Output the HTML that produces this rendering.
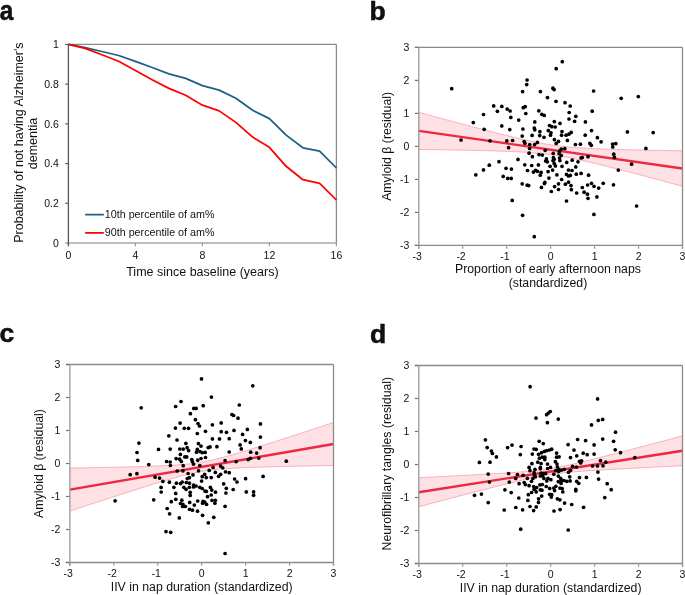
<!DOCTYPE html>
<html><head><meta charset="utf-8"><style>
html,body{margin:0;padding:0;background:#fff;}
svg{display:block;will-change:transform;}
text{font-family:"Liberation Sans", sans-serif;fill:#111;}
</style></head><body>
<svg width="685" height="595" viewBox="0 0 685 595">
<rect width="685" height="595" fill="#fff"/>
<line x1="68.4" y1="44.4" x2="336.4" y2="44.4" stroke="#8a8a8a" stroke-width="1.3"/>
<line x1="336.4" y1="44.4" x2="336.4" y2="243.0" stroke="#8a8a8a" stroke-width="1.3"/>
<line x1="65.10000000000001" y1="243.0" x2="336.4" y2="243.0" stroke="#a8a8a8" stroke-width="1.5"/>
<line x1="65.10000000000001" y1="203.28" x2="68.4" y2="203.28" stroke="#666" stroke-width="1.2"/>
<line x1="65.10000000000001" y1="163.56" x2="68.4" y2="163.56" stroke="#666" stroke-width="1.2"/>
<line x1="65.10000000000001" y1="123.84" x2="68.4" y2="123.84" stroke="#666" stroke-width="1.2"/>
<line x1="65.10000000000001" y1="84.12" x2="68.4" y2="84.12" stroke="#666" stroke-width="1.2"/>
<line x1="65.10000000000001" y1="44.40" x2="68.4" y2="44.40" stroke="#666" stroke-width="1.2"/>
<line x1="68.40" y1="243.0" x2="68.40" y2="246.2" stroke="#999" stroke-width="1.2"/>
<text x="68.40" y="259.2" font-size="10.5" text-anchor="middle">0</text>
<line x1="135.40" y1="243.0" x2="135.40" y2="246.2" stroke="#999" stroke-width="1.2"/>
<text x="135.40" y="259.2" font-size="10.5" text-anchor="middle">4</text>
<line x1="202.40" y1="243.0" x2="202.40" y2="246.2" stroke="#999" stroke-width="1.2"/>
<text x="202.40" y="259.2" font-size="10.5" text-anchor="middle">8</text>
<line x1="269.40" y1="243.0" x2="269.40" y2="246.2" stroke="#999" stroke-width="1.2"/>
<text x="269.40" y="259.2" font-size="10.5" text-anchor="middle">12</text>
<line x1="336.40" y1="243.0" x2="336.40" y2="246.2" stroke="#999" stroke-width="1.2"/>
<text x="336.40" y="259.2" font-size="10.5" text-anchor="middle">16</text>
<line x1="68.4" y1="44.4" x2="68.4" y2="246.2" stroke="#555" stroke-width="1.3"/>
<text x="58.900000000000006" y="246.80" font-size="10.5" text-anchor="end">0</text>
<text x="58.900000000000006" y="207.08" font-size="10.5" text-anchor="end">0.2</text>
<text x="58.900000000000006" y="167.36" font-size="10.5" text-anchor="end">0.4</text>
<text x="58.900000000000006" y="127.64" font-size="10.5" text-anchor="end">0.6</text>
<text x="58.900000000000006" y="87.92" font-size="10.5" text-anchor="end">0.8</text>
<text x="58.900000000000006" y="48.20" font-size="10.5" text-anchor="end">1</text>
<polyline points="68.40,44.40 85.15,47.60 101.90,51.50 118.65,55.50 135.40,61.40 152.15,67.50 168.90,73.90 185.65,78.40 202.40,85.60 219.15,90.10 235.90,98.20 252.65,110.30 269.40,118.60 286.15,135.10 302.90,147.80 319.65,151.20 336.40,168.00" fill="none" stroke="#1b6088" stroke-width="1.75" stroke-linejoin="round"/>
<polyline points="68.40,44.40 85.15,48.40 101.90,54.80 118.65,61.30 135.40,70.60 152.15,79.80 168.90,88.40 185.65,95.30 202.40,105.20 219.15,110.90 235.90,122.40 252.65,137.10 269.40,147.30 286.15,166.30 302.90,179.70 319.65,183.40 336.40,200.00" fill="none" stroke="#ff0000" stroke-width="1.75" stroke-linejoin="round"/>
<line x1="85.8" y1="214.6" x2="103.2" y2="214.6" stroke="#1b6088" stroke-width="1.75" stroke-linecap="round"/>
<line x1="85.8" y1="232.8" x2="103.2" y2="232.8" stroke="#ff0000" stroke-width="1.75" stroke-linecap="round"/>
<text x="104.8" y="218.0" font-size="10.72">10th percentile of am%</text>
<text x="104.8" y="236.2" font-size="10.72">90th percentile of am%</text>
<text x="202.4" y="276" font-size="12.5" text-anchor="middle">Time since baseline (years)</text>
<text transform="translate(22.6,142.6) rotate(-90)" font-size="12.5" text-anchor="middle">Probability of not having Alzheimer's</text>
<text transform="translate(37,143.5) rotate(-90)" font-size="12.5" text-anchor="middle">dementia</text>
<polygon points="418.80,112.39 423.19,113.58 427.59,114.77 431.99,115.95 436.38,117.13 440.78,118.31 445.17,119.49 449.56,120.66 453.96,121.84 458.36,123.01 462.75,124.17 467.14,125.34 471.54,126.50 475.94,127.65 480.33,128.80 484.73,129.94 489.12,131.08 493.51,132.20 497.91,133.32 502.31,134.43 506.70,135.52 511.10,136.59 515.49,137.65 519.88,138.68 524.28,139.68 528.67,140.66 533.07,141.59 537.47,142.47 541.86,143.31 546.25,144.08 550.65,144.79 555.05,145.43 559.44,146.00 563.84,146.51 568.23,146.95 572.62,147.34 577.02,147.68 581.41,147.98 585.81,148.24 590.20,148.47 594.60,148.68 599.00,148.87 603.39,149.03 607.78,149.19 612.18,149.33 616.58,149.46 620.97,149.58 625.37,149.70 629.76,149.81 634.15,149.91 638.55,150.00 642.94,150.10 647.34,150.19 651.74,150.27 656.13,150.35 660.52,150.43 664.92,150.51 669.32,150.58 673.71,150.66 678.11,150.73 682.50,150.80 682.50,186.22 678.11,185.04 673.71,183.86 669.32,182.67 664.92,181.50 660.52,180.32 656.13,179.14 651.74,177.97 647.34,176.80 642.94,175.64 638.55,174.48 634.15,173.32 629.76,172.17 625.37,171.02 620.97,169.88 616.58,168.75 612.18,167.63 607.78,166.51 603.39,165.41 599.00,164.33 594.60,163.26 590.20,162.21 585.81,161.19 581.41,160.20 577.02,159.24 572.62,158.33 568.23,157.46 563.84,156.65 559.44,155.91 555.05,155.22 550.65,154.61 546.25,154.07 541.86,153.59 537.47,153.16 533.07,152.80 528.67,152.47 524.28,152.19 519.88,151.94 515.49,151.72 511.10,151.52 506.70,151.34 502.31,151.18 497.91,151.03 493.51,150.89 489.12,150.77 484.73,150.65 480.33,150.54 475.94,150.43 471.54,150.33 467.14,150.24 462.75,150.15 458.36,150.06 453.96,149.97 449.56,149.89 445.17,149.82 440.78,149.74 436.38,149.67 431.99,149.59 427.59,149.52 423.19,149.45 418.80,149.39" fill="#fde1e5" stroke="none"/>
<polyline points="418.80,112.39 423.19,113.58 427.59,114.77 431.99,115.95 436.38,117.13 440.78,118.31 445.17,119.49 449.56,120.66 453.96,121.84 458.36,123.01 462.75,124.17 467.14,125.34 471.54,126.50 475.94,127.65 480.33,128.80 484.73,129.94 489.12,131.08 493.51,132.20 497.91,133.32 502.31,134.43 506.70,135.52 511.10,136.59 515.49,137.65 519.88,138.68 524.28,139.68 528.67,140.66 533.07,141.59 537.47,142.47 541.86,143.31 546.25,144.08 550.65,144.79 555.05,145.43 559.44,146.00 563.84,146.51 568.23,146.95 572.62,147.34 577.02,147.68 581.41,147.98 585.81,148.24 590.20,148.47 594.60,148.68 599.00,148.87 603.39,149.03 607.78,149.19 612.18,149.33 616.58,149.46 620.97,149.58 625.37,149.70 629.76,149.81 634.15,149.91 638.55,150.00 642.94,150.10 647.34,150.19 651.74,150.27 656.13,150.35 660.52,150.43 664.92,150.51 669.32,150.58 673.71,150.66 678.11,150.73 682.50,150.80" fill="none" stroke="#f7a0ae" stroke-width="0.8"/>
<polyline points="418.80,149.39 423.19,149.45 427.59,149.52 431.99,149.59 436.38,149.67 440.78,149.74 445.17,149.82 449.56,149.89 453.96,149.97 458.36,150.06 462.75,150.15 467.14,150.24 471.54,150.33 475.94,150.43 480.33,150.54 484.73,150.65 489.12,150.77 493.51,150.89 497.91,151.03 502.31,151.18 506.70,151.34 511.10,151.52 515.49,151.72 519.88,151.94 524.28,152.19 528.67,152.47 533.07,152.80 537.47,153.16 541.86,153.59 546.25,154.07 550.65,154.61 555.05,155.22 559.44,155.91 563.84,156.65 568.23,157.46 572.62,158.33 577.02,159.24 581.41,160.20 585.81,161.19 590.20,162.21 594.60,163.26 599.00,164.33 603.39,165.41 607.78,166.51 612.18,167.63 616.58,168.75 620.97,169.88 625.37,171.02 629.76,172.17 634.15,173.32 638.55,174.48 642.94,175.64 647.34,176.80 651.74,177.97 656.13,179.14 660.52,180.32 664.92,181.50 669.32,182.67 673.71,183.86 678.11,185.04 682.50,186.22" fill="none" stroke="#f7a0ae" stroke-width="0.8"/>
<line x1="418.8" y1="130.89" x2="682.5" y2="168.51" stroke="#ec2842" stroke-width="2.4"/>
<line x1="414.8" y1="47.4" x2="682.5" y2="47.4" stroke="#8a8a8a" stroke-width="1.3"/>
<line x1="682.5" y1="47.4" x2="682.5" y2="248.70000000000002" stroke="#8a8a8a" stroke-width="1.3"/>
<line x1="414.8" y1="245.4" x2="682.5" y2="245.4" stroke="#8a8a8a" stroke-width="1.3"/>
<line x1="414.8" y1="245.40" x2="418.8" y2="245.40" stroke="#777" stroke-width="1.2"/>
<line x1="418.80" y1="245.4" x2="418.80" y2="248.70000000000002" stroke="#999" stroke-width="1.2"/>
<text x="409.3" y="249.20" font-size="10.5" text-anchor="end">-3</text>
<text x="417.10" y="259.70" font-size="10.5" text-anchor="middle">-3</text>
<line x1="414.8" y1="212.40" x2="418.8" y2="212.40" stroke="#777" stroke-width="1.2"/>
<line x1="462.75" y1="245.4" x2="462.75" y2="248.70000000000002" stroke="#999" stroke-width="1.2"/>
<text x="409.3" y="216.20" font-size="10.5" text-anchor="end">-2</text>
<text x="461.05" y="259.70" font-size="10.5" text-anchor="middle">-2</text>
<line x1="414.8" y1="179.40" x2="418.8" y2="179.40" stroke="#777" stroke-width="1.2"/>
<line x1="506.70" y1="245.4" x2="506.70" y2="248.70000000000002" stroke="#999" stroke-width="1.2"/>
<text x="409.3" y="183.20" font-size="10.5" text-anchor="end">-1</text>
<text x="505.00" y="259.70" font-size="10.5" text-anchor="middle">-1</text>
<line x1="414.8" y1="146.40" x2="418.8" y2="146.40" stroke="#777" stroke-width="1.2"/>
<line x1="550.65" y1="245.4" x2="550.65" y2="248.70000000000002" stroke="#999" stroke-width="1.2"/>
<text x="409.3" y="150.20" font-size="10.5" text-anchor="end">0</text>
<text x="550.65" y="259.70" font-size="10.5" text-anchor="middle">0</text>
<line x1="414.8" y1="113.40" x2="418.8" y2="113.40" stroke="#777" stroke-width="1.2"/>
<line x1="594.60" y1="245.4" x2="594.60" y2="248.70000000000002" stroke="#999" stroke-width="1.2"/>
<text x="409.3" y="117.20" font-size="10.5" text-anchor="end">1</text>
<text x="594.60" y="259.70" font-size="10.5" text-anchor="middle">1</text>
<line x1="414.8" y1="80.40" x2="418.8" y2="80.40" stroke="#777" stroke-width="1.2"/>
<line x1="638.55" y1="245.4" x2="638.55" y2="248.70000000000002" stroke="#999" stroke-width="1.2"/>
<text x="409.3" y="84.20" font-size="10.5" text-anchor="end">2</text>
<text x="638.55" y="259.70" font-size="10.5" text-anchor="middle">2</text>
<line x1="414.8" y1="47.40" x2="418.8" y2="47.40" stroke="#777" stroke-width="1.2"/>
<line x1="682.50" y1="245.4" x2="682.50" y2="248.70000000000002" stroke="#999" stroke-width="1.2"/>
<text x="409.3" y="51.20" font-size="10.5" text-anchor="end">3</text>
<text x="682.50" y="259.70" font-size="10.5" text-anchor="middle">3</text>
<line x1="418.8" y1="47.4" x2="418.8" y2="248.70000000000002" stroke="#9a9a9a" stroke-width="1.3"/>
<circle cx="451.7" cy="88.7" r="1.85"/>
<circle cx="493.7" cy="105.9" r="1.85"/>
<circle cx="501.8" cy="106.4" r="1.85"/>
<circle cx="507.2" cy="109.1" r="1.85"/>
<circle cx="510.1" cy="111" r="1.85"/>
<circle cx="497.4" cy="111.3" r="1.85"/>
<circle cx="483.5" cy="114.5" r="1.85"/>
<circle cx="510.8" cy="117.4" r="1.85"/>
<circle cx="518.7" cy="120.1" r="1.85"/>
<circle cx="473.3" cy="122.6" r="1.85"/>
<circle cx="501.8" cy="125.9" r="1.85"/>
<circle cx="484.2" cy="129.3" r="1.85"/>
<circle cx="509.8" cy="129.6" r="1.85"/>
<circle cx="562.3" cy="61.7" r="1.85"/>
<circle cx="556.2" cy="68.7" r="1.85"/>
<circle cx="527.1" cy="80" r="1.85"/>
<circle cx="526.7" cy="84.6" r="1.85"/>
<circle cx="552.9" cy="88.2" r="1.85"/>
<circle cx="554.1" cy="89.6" r="1.85"/>
<circle cx="522.6" cy="91.6" r="1.85"/>
<circle cx="540.4" cy="91.6" r="1.85"/>
<circle cx="593.6" cy="91" r="1.85"/>
<circle cx="547.5" cy="97.6" r="1.85"/>
<circle cx="556" cy="101.3" r="1.85"/>
<circle cx="565" cy="102.7" r="1.85"/>
<circle cx="570.2" cy="106" r="1.85"/>
<circle cx="523.2" cy="107.7" r="1.85"/>
<circle cx="525.2" cy="106.7" r="1.85"/>
<circle cx="538.8" cy="110.8" r="1.85"/>
<circle cx="525.8" cy="113.5" r="1.85"/>
<circle cx="541.8" cy="114.3" r="1.85"/>
<circle cx="544.2" cy="115.4" r="1.85"/>
<circle cx="569.2" cy="112.5" r="1.85"/>
<circle cx="575.8" cy="116.3" r="1.85"/>
<circle cx="592.2" cy="111.2" r="1.85"/>
<circle cx="534.8" cy="121.9" r="1.85"/>
<circle cx="554.3" cy="121.6" r="1.85"/>
<circle cx="569" cy="119" r="1.85"/>
<circle cx="574.6" cy="121.3" r="1.85"/>
<circle cx="585.4" cy="121.9" r="1.85"/>
<circle cx="560" cy="123.4" r="1.85"/>
<circle cx="549.5" cy="125.5" r="1.85"/>
<circle cx="551.8" cy="126.7" r="1.85"/>
<circle cx="555.2" cy="127" r="1.85"/>
<circle cx="522.9" cy="129" r="1.85"/>
<circle cx="534.3" cy="128" r="1.85"/>
<circle cx="534.8" cy="129.8" r="1.85"/>
<circle cx="621.2" cy="98.3" r="1.85"/>
<circle cx="638.3" cy="96.6" r="1.85"/>
<circle cx="522.2" cy="136.1" r="1.85"/>
<circle cx="461" cy="140" r="1.85"/>
<circle cx="490" cy="140.8" r="1.85"/>
<circle cx="506.8" cy="140.9" r="1.85"/>
<circle cx="512.6" cy="140.5" r="1.85"/>
<circle cx="508.6" cy="147.7" r="1.85"/>
<circle cx="518" cy="159.4" r="1.85"/>
<circle cx="499" cy="161.7" r="1.85"/>
<circle cx="489.3" cy="165.2" r="1.85"/>
<circle cx="483.5" cy="169.9" r="1.85"/>
<circle cx="506" cy="168.3" r="1.85"/>
<circle cx="511.4" cy="169.1" r="1.85"/>
<circle cx="475.8" cy="174.8" r="1.85"/>
<circle cx="503.2" cy="176.4" r="1.85"/>
<circle cx="507.7" cy="178.4" r="1.85"/>
<circle cx="511.2" cy="178.4" r="1.85"/>
<circle cx="522.2" cy="183.8" r="1.85"/>
<circle cx="512.2" cy="200.4" r="1.85"/>
<circle cx="539.9" cy="131.7" r="1.85"/>
<circle cx="539.7" cy="135.6" r="1.85"/>
<circle cx="544" cy="137.3" r="1.85"/>
<circle cx="532.1" cy="135.4" r="1.85"/>
<circle cx="548.3" cy="130.6" r="1.85"/>
<circle cx="551" cy="132.8" r="1.85"/>
<circle cx="550.5" cy="135.2" r="1.85"/>
<circle cx="562" cy="131.5" r="1.85"/>
<circle cx="561.6" cy="135.2" r="1.85"/>
<circle cx="566.1" cy="135.2" r="1.85"/>
<circle cx="568.9" cy="134.2" r="1.85"/>
<circle cx="571.2" cy="132.4" r="1.85"/>
<circle cx="567.4" cy="140.4" r="1.85"/>
<circle cx="554.4" cy="139.7" r="1.85"/>
<circle cx="556.2" cy="143.4" r="1.85"/>
<circle cx="558.5" cy="141.4" r="1.85"/>
<circle cx="524.2" cy="141.5" r="1.85"/>
<circle cx="524.9" cy="143.3" r="1.85"/>
<circle cx="537.4" cy="142.4" r="1.85"/>
<circle cx="534.6" cy="144.6" r="1.85"/>
<circle cx="529.7" cy="144.5" r="1.85"/>
<circle cx="529.7" cy="148.5" r="1.85"/>
<circle cx="529.1" cy="153.2" r="1.85"/>
<circle cx="532.4" cy="156.7" r="1.85"/>
<circle cx="545.2" cy="150.3" r="1.85"/>
<circle cx="539.0" cy="154.6" r="1.85"/>
<circle cx="542.3" cy="155.1" r="1.85"/>
<circle cx="561.2" cy="149.1" r="1.85"/>
<circle cx="564.8" cy="148.7" r="1.85"/>
<circle cx="559.5" cy="151.2" r="1.85"/>
<circle cx="559.1" cy="153.6" r="1.85"/>
<circle cx="561.2" cy="155.4" r="1.85"/>
<circle cx="559.5" cy="158.1" r="1.85"/>
<circle cx="559.9" cy="160.6" r="1.85"/>
<circle cx="553.2" cy="153.4" r="1.85"/>
<circle cx="553.4" cy="157.7" r="1.85"/>
<circle cx="554.2" cy="159.3" r="1.85"/>
<circle cx="553" cy="160.6" r="1.85"/>
<circle cx="546.4" cy="158.9" r="1.85"/>
<circle cx="545.6" cy="161" r="1.85"/>
<circle cx="547.3" cy="161.8" r="1.85"/>
<circle cx="554.2" cy="163.4" r="1.85"/>
<circle cx="555.4" cy="165.9" r="1.85"/>
<circle cx="550.1" cy="166.3" r="1.85"/>
<circle cx="562" cy="166.3" r="1.85"/>
<circle cx="566.7" cy="162.4" r="1.85"/>
<circle cx="572.2" cy="160.2" r="1.85"/>
<circle cx="524.8" cy="164.8" r="1.85"/>
<circle cx="531.7" cy="165.5" r="1.85"/>
<circle cx="538.4" cy="164.9" r="1.85"/>
<circle cx="591.5" cy="130.6" r="1.85"/>
<circle cx="585.2" cy="135.2" r="1.85"/>
<circle cx="597.4" cy="137.7" r="1.85"/>
<circle cx="601.1" cy="141.8" r="1.85"/>
<circle cx="575.4" cy="144.5" r="1.85"/>
<circle cx="580.4" cy="144.2" r="1.85"/>
<circle cx="589.9" cy="143.4" r="1.85"/>
<circle cx="591.3" cy="145.3" r="1.85"/>
<circle cx="612.6" cy="144" r="1.85"/>
<circle cx="615.8" cy="143.6" r="1.85"/>
<circle cx="612.8" cy="146.9" r="1.85"/>
<circle cx="613.8" cy="154.2" r="1.85"/>
<circle cx="614.4" cy="157.3" r="1.85"/>
<circle cx="588" cy="156.7" r="1.85"/>
<circle cx="581.1" cy="157.9" r="1.85"/>
<circle cx="582.3" cy="157.5" r="1.85"/>
<circle cx="578" cy="161.8" r="1.85"/>
<circle cx="575.8" cy="166.9" r="1.85"/>
<circle cx="627.4" cy="131.9" r="1.85"/>
<circle cx="653.2" cy="132.6" r="1.85"/>
<circle cx="645.9" cy="148.4" r="1.85"/>
<circle cx="631.6" cy="164.2" r="1.85"/>
<circle cx="527.5" cy="170.5" r="1.85"/>
<circle cx="533.4" cy="172.1" r="1.85"/>
<circle cx="535.6" cy="170.3" r="1.85"/>
<circle cx="537.4" cy="171.3" r="1.85"/>
<circle cx="541.1" cy="172.4" r="1.85"/>
<circle cx="540.3" cy="175.2" r="1.85"/>
<circle cx="548.1" cy="171.6" r="1.85"/>
<circle cx="552.6" cy="170.1" r="1.85"/>
<circle cx="548.9" cy="178.1" r="1.85"/>
<circle cx="556.9" cy="174.8" r="1.85"/>
<circle cx="561.6" cy="179.5" r="1.85"/>
<circle cx="568.5" cy="170.1" r="1.85"/>
<circle cx="572" cy="170.5" r="1.85"/>
<circle cx="566.5" cy="174.4" r="1.85"/>
<circle cx="568.5" cy="176" r="1.85"/>
<circle cx="570.3" cy="175.4" r="1.85"/>
<circle cx="527.2" cy="185.2" r="1.85"/>
<circle cx="528.7" cy="185.6" r="1.85"/>
<circle cx="544.8" cy="182.4" r="1.85"/>
<circle cx="544.4" cy="183.6" r="1.85"/>
<circle cx="541.4" cy="187.4" r="1.85"/>
<circle cx="554.6" cy="186.6" r="1.85"/>
<circle cx="558.5" cy="183.8" r="1.85"/>
<circle cx="558.5" cy="189.5" r="1.85"/>
<circle cx="551.3" cy="191.5" r="1.85"/>
<circle cx="565.4" cy="184.2" r="1.85"/>
<circle cx="568.5" cy="182.2" r="1.85"/>
<circle cx="571" cy="185.6" r="1.85"/>
<circle cx="571.4" cy="189.7" r="1.85"/>
<circle cx="566.5" cy="201" r="1.85"/>
<circle cx="576.3" cy="174.2" r="1.85"/>
<circle cx="581.1" cy="173.4" r="1.85"/>
<circle cx="588.6" cy="175.2" r="1.85"/>
<circle cx="618.3" cy="170.1" r="1.85"/>
<circle cx="576.7" cy="193" r="1.85"/>
<circle cx="582.3" cy="187.5" r="1.85"/>
<circle cx="587.6" cy="185" r="1.85"/>
<circle cx="591.5" cy="183.3" r="1.85"/>
<circle cx="594" cy="186.3" r="1.85"/>
<circle cx="598.7" cy="188.1" r="1.85"/>
<circle cx="603.2" cy="183.3" r="1.85"/>
<circle cx="613.5" cy="184.8" r="1.85"/>
<circle cx="584.1" cy="192.2" r="1.85"/>
<circle cx="587.4" cy="194.2" r="1.85"/>
<circle cx="588" cy="198.3" r="1.85"/>
<circle cx="596.9" cy="196.9" r="1.85"/>
<circle cx="636.6" cy="206" r="1.85"/>
<circle cx="522.6" cy="215.3" r="1.85"/>
<circle cx="534.3" cy="236.7" r="1.85"/>
<circle cx="593.9" cy="214.4" r="1.85"/>
<text x="547.95" y="272.85" font-size="12.3" text-anchor="middle">Proportion of early afternoon naps</text>
<text x="547.95" y="287.35" font-size="12.3" text-anchor="middle">(standardized)</text>
<text transform="translate(391.3,146.40) rotate(-90)" font-size="12.3" text-anchor="middle">Amyloid β (residual)</text>
<polygon points="69.90,468.10 74.29,468.02 78.69,467.95 83.08,467.87 87.47,467.78 91.87,467.70 96.26,467.62 100.65,467.53 105.05,467.44 109.44,467.35 113.83,467.25 118.23,467.15 122.62,467.05 127.01,466.94 131.41,466.83 135.80,466.72 140.19,466.59 144.59,466.46 148.98,466.31 153.37,466.16 157.77,465.99 162.16,465.80 166.55,465.59 170.95,465.35 175.34,465.08 179.73,464.77 184.13,464.40 188.52,463.96 192.91,463.45 197.31,462.84 201.70,462.13 206.09,461.32 210.49,460.41 214.88,459.41 219.27,458.32 223.67,457.18 228.06,455.97 232.45,454.73 236.85,453.45 241.24,452.14 245.63,450.81 250.03,449.46 254.42,448.10 258.81,446.72 263.21,445.34 267.60,443.95 271.99,442.55 276.39,441.14 280.78,439.73 285.17,438.31 289.57,436.89 293.96,435.47 298.35,434.04 302.75,432.61 307.14,431.18 311.53,429.75 315.93,428.32 320.32,426.88 324.71,425.44 329.11,424.00 333.50,422.56 333.50,465.50 329.11,465.58 324.71,465.65 320.32,465.73 315.93,465.82 311.53,465.90 307.14,465.98 302.75,466.07 298.35,466.16 293.96,466.25 289.57,466.35 285.17,466.45 280.78,466.55 276.39,466.66 271.99,466.77 267.60,466.88 263.21,467.01 258.81,467.14 254.42,467.29 250.03,467.44 245.63,467.61 241.24,467.80 236.85,468.01 232.45,468.25 228.06,468.52 223.67,468.83 219.27,469.20 214.88,469.64 210.49,470.15 206.09,470.76 201.70,471.47 197.31,472.28 192.91,473.19 188.52,474.19 184.13,475.28 179.73,476.42 175.34,477.63 170.95,478.87 166.55,480.15 162.16,481.46 157.77,482.79 153.37,484.14 148.98,485.50 144.59,486.88 140.19,488.26 135.80,489.65 131.41,491.05 127.01,492.46 122.62,493.87 118.23,495.29 113.83,496.71 109.44,498.13 105.05,499.56 100.65,500.99 96.26,502.42 91.87,503.85 87.47,505.28 83.08,506.72 78.69,508.16 74.29,509.60 69.90,511.04" fill="#fde1e5" stroke="none"/>
<polyline points="69.90,468.10 74.29,468.02 78.69,467.95 83.08,467.87 87.47,467.78 91.87,467.70 96.26,467.62 100.65,467.53 105.05,467.44 109.44,467.35 113.83,467.25 118.23,467.15 122.62,467.05 127.01,466.94 131.41,466.83 135.80,466.72 140.19,466.59 144.59,466.46 148.98,466.31 153.37,466.16 157.77,465.99 162.16,465.80 166.55,465.59 170.95,465.35 175.34,465.08 179.73,464.77 184.13,464.40 188.52,463.96 192.91,463.45 197.31,462.84 201.70,462.13 206.09,461.32 210.49,460.41 214.88,459.41 219.27,458.32 223.67,457.18 228.06,455.97 232.45,454.73 236.85,453.45 241.24,452.14 245.63,450.81 250.03,449.46 254.42,448.10 258.81,446.72 263.21,445.34 267.60,443.95 271.99,442.55 276.39,441.14 280.78,439.73 285.17,438.31 289.57,436.89 293.96,435.47 298.35,434.04 302.75,432.61 307.14,431.18 311.53,429.75 315.93,428.32 320.32,426.88 324.71,425.44 329.11,424.00 333.50,422.56" fill="none" stroke="#f7a0ae" stroke-width="0.8"/>
<polyline points="69.90,511.04 74.29,509.60 78.69,508.16 83.08,506.72 87.47,505.28 91.87,503.85 96.26,502.42 100.65,500.99 105.05,499.56 109.44,498.13 113.83,496.71 118.23,495.29 122.62,493.87 127.01,492.46 131.41,491.05 135.80,489.65 140.19,488.26 144.59,486.88 148.98,485.50 153.37,484.14 157.77,482.79 162.16,481.46 166.55,480.15 170.95,478.87 175.34,477.63 179.73,476.42 184.13,475.28 188.52,474.19 192.91,473.19 197.31,472.28 201.70,471.47 206.09,470.76 210.49,470.15 214.88,469.64 219.27,469.20 223.67,468.83 228.06,468.52 232.45,468.25 236.85,468.01 241.24,467.80 245.63,467.61 250.03,467.44 254.42,467.29 258.81,467.14 263.21,467.01 267.60,466.88 271.99,466.77 276.39,466.66 280.78,466.55 285.17,466.45 289.57,466.35 293.96,466.25 298.35,466.16 302.75,466.07 307.14,465.98 311.53,465.90 315.93,465.82 320.32,465.73 324.71,465.65 329.11,465.58 333.50,465.50" fill="none" stroke="#f7a0ae" stroke-width="0.8"/>
<line x1="69.9" y1="489.57" x2="333.5" y2="444.03" stroke="#ec2842" stroke-width="2.4"/>
<line x1="65.9" y1="364.5" x2="333.5" y2="364.5" stroke="#8a8a8a" stroke-width="1.3"/>
<line x1="333.5" y1="364.5" x2="333.5" y2="565.8" stroke="#8a8a8a" stroke-width="1.3"/>
<line x1="65.9" y1="562.5" x2="333.5" y2="562.5" stroke="#8a8a8a" stroke-width="1.3"/>
<line x1="65.9" y1="562.50" x2="69.9" y2="562.50" stroke="#777" stroke-width="1.2"/>
<line x1="69.90" y1="562.5" x2="69.90" y2="565.8" stroke="#999" stroke-width="1.2"/>
<text x="60.400000000000006" y="566.30" font-size="10.5" text-anchor="end">-3</text>
<text x="68.20" y="576.80" font-size="10.5" text-anchor="middle">-3</text>
<line x1="65.9" y1="529.50" x2="69.9" y2="529.50" stroke="#777" stroke-width="1.2"/>
<line x1="113.83" y1="562.5" x2="113.83" y2="565.8" stroke="#999" stroke-width="1.2"/>
<text x="60.400000000000006" y="533.30" font-size="10.5" text-anchor="end">-2</text>
<text x="112.13" y="576.80" font-size="10.5" text-anchor="middle">-2</text>
<line x1="65.9" y1="496.50" x2="69.9" y2="496.50" stroke="#777" stroke-width="1.2"/>
<line x1="157.77" y1="562.5" x2="157.77" y2="565.8" stroke="#999" stroke-width="1.2"/>
<text x="60.400000000000006" y="500.30" font-size="10.5" text-anchor="end">-1</text>
<text x="156.07" y="576.80" font-size="10.5" text-anchor="middle">-1</text>
<line x1="65.9" y1="463.50" x2="69.9" y2="463.50" stroke="#777" stroke-width="1.2"/>
<line x1="201.70" y1="562.5" x2="201.70" y2="565.8" stroke="#999" stroke-width="1.2"/>
<text x="60.400000000000006" y="467.30" font-size="10.5" text-anchor="end">0</text>
<text x="201.70" y="576.80" font-size="10.5" text-anchor="middle">0</text>
<line x1="65.9" y1="430.50" x2="69.9" y2="430.50" stroke="#777" stroke-width="1.2"/>
<line x1="245.63" y1="562.5" x2="245.63" y2="565.8" stroke="#999" stroke-width="1.2"/>
<text x="60.400000000000006" y="434.30" font-size="10.5" text-anchor="end">1</text>
<text x="245.63" y="576.80" font-size="10.5" text-anchor="middle">1</text>
<line x1="65.9" y1="397.50" x2="69.9" y2="397.50" stroke="#777" stroke-width="1.2"/>
<line x1="289.57" y1="562.5" x2="289.57" y2="565.8" stroke="#999" stroke-width="1.2"/>
<text x="60.400000000000006" y="401.30" font-size="10.5" text-anchor="end">2</text>
<text x="289.57" y="576.80" font-size="10.5" text-anchor="middle">2</text>
<line x1="65.9" y1="364.50" x2="69.9" y2="364.50" stroke="#777" stroke-width="1.2"/>
<line x1="333.50" y1="562.5" x2="333.50" y2="565.8" stroke="#999" stroke-width="1.2"/>
<text x="60.400000000000006" y="368.30" font-size="10.5" text-anchor="end">3</text>
<text x="333.50" y="576.80" font-size="10.5" text-anchor="middle">3</text>
<line x1="69.9" y1="364.5" x2="69.9" y2="565.8" stroke="#9a9a9a" stroke-width="1.3"/>
<circle cx="141.2" cy="407.8" r="1.85"/>
<circle cx="115.1" cy="500.8" r="1.85"/>
<circle cx="201.5" cy="378.9" r="1.85"/>
<circle cx="181" cy="401.5" r="1.85"/>
<circle cx="175.6" cy="406.5" r="1.85"/>
<circle cx="203.2" cy="405.7" r="1.85"/>
<circle cx="193.8" cy="408.4" r="1.85"/>
<circle cx="196.1" cy="408.4" r="1.85"/>
<circle cx="190.4" cy="413.7" r="1.85"/>
<circle cx="195.4" cy="419.7" r="1.85"/>
<circle cx="198" cy="423.5" r="1.85"/>
<circle cx="199.5" cy="426" r="1.85"/>
<circle cx="180.1" cy="423.1" r="1.85"/>
<circle cx="175.4" cy="428.1" r="1.85"/>
<circle cx="184.3" cy="428.3" r="1.85"/>
<circle cx="188.5" cy="428.3" r="1.85"/>
<circle cx="205.5" cy="431.3" r="1.85"/>
<circle cx="197.3" cy="433.5" r="1.85"/>
<circle cx="168.8" cy="435.8" r="1.85"/>
<circle cx="252.8" cy="385.8" r="1.85"/>
<circle cx="211.4" cy="397.1" r="1.85"/>
<circle cx="239.3" cy="405" r="1.85"/>
<circle cx="231.9" cy="414.5" r="1.85"/>
<circle cx="233.6" cy="415.5" r="1.85"/>
<circle cx="238" cy="418.2" r="1.85"/>
<circle cx="260.4" cy="423.9" r="1.85"/>
<circle cx="212.4" cy="424.8" r="1.85"/>
<circle cx="221.2" cy="422.9" r="1.85"/>
<circle cx="221.2" cy="431.7" r="1.85"/>
<circle cx="226.5" cy="432.3" r="1.85"/>
<circle cx="234" cy="430.4" r="1.85"/>
<circle cx="247.4" cy="429.4" r="1.85"/>
<circle cx="242.6" cy="434.4" r="1.85"/>
<circle cx="260.4" cy="437.1" r="1.85"/>
<circle cx="260.1" cy="447.7" r="1.85"/>
<circle cx="256.6" cy="453.1" r="1.85"/>
<circle cx="258.8" cy="458.1" r="1.85"/>
<circle cx="286.3" cy="461.2" r="1.85"/>
<circle cx="263.1" cy="476.4" r="1.85"/>
<circle cx="177" cy="440" r="1.85"/>
<circle cx="138.9" cy="443.1" r="1.85"/>
<circle cx="137" cy="452.5" r="1.85"/>
<circle cx="137.7" cy="460.4" r="1.85"/>
<circle cx="158.5" cy="449.4" r="1.85"/>
<circle cx="170.2" cy="449.1" r="1.85"/>
<circle cx="176.1" cy="458.6" r="1.85"/>
<circle cx="166.6" cy="461.5" r="1.85"/>
<circle cx="170.2" cy="462" r="1.85"/>
<circle cx="170.4" cy="465.5" r="1.85"/>
<circle cx="148.8" cy="464.6" r="1.85"/>
<circle cx="130.2" cy="474.7" r="1.85"/>
<circle cx="136.9" cy="473.7" r="1.85"/>
<circle cx="155.1" cy="477.2" r="1.85"/>
<circle cx="159.6" cy="478.1" r="1.85"/>
<circle cx="177.2" cy="471" r="1.85"/>
<circle cx="212.4" cy="438.9" r="1.85"/>
<circle cx="219.5" cy="438.9" r="1.85"/>
<circle cx="229.2" cy="438.7" r="1.85"/>
<circle cx="185.9" cy="443.4" r="1.85"/>
<circle cx="198.4" cy="443.6" r="1.85"/>
<circle cx="201" cy="446.1" r="1.85"/>
<circle cx="179.8" cy="449" r="1.85"/>
<circle cx="183.2" cy="449.1" r="1.85"/>
<circle cx="187.1" cy="447.7" r="1.85"/>
<circle cx="188.6" cy="450.6" r="1.85"/>
<circle cx="208.2" cy="447.6" r="1.85"/>
<circle cx="210" cy="446.9" r="1.85"/>
<circle cx="216.9" cy="446.7" r="1.85"/>
<circle cx="197.3" cy="449.4" r="1.85"/>
<circle cx="196.5" cy="452.2" r="1.85"/>
<circle cx="200" cy="451.6" r="1.85"/>
<circle cx="202.2" cy="452.6" r="1.85"/>
<circle cx="205.1" cy="452.4" r="1.85"/>
<circle cx="229.2" cy="452" r="1.85"/>
<circle cx="180.4" cy="454.4" r="1.85"/>
<circle cx="179.7" cy="459.2" r="1.85"/>
<circle cx="181.4" cy="461.5" r="1.85"/>
<circle cx="184.8" cy="456.9" r="1.85"/>
<circle cx="186.7" cy="456.9" r="1.85"/>
<circle cx="191.8" cy="459.6" r="1.85"/>
<circle cx="192.4" cy="461.6" r="1.85"/>
<circle cx="193.5" cy="464.1" r="1.85"/>
<circle cx="197.7" cy="460.2" r="1.85"/>
<circle cx="201" cy="458.5" r="1.85"/>
<circle cx="205.5" cy="457.5" r="1.85"/>
<circle cx="225.1" cy="460.6" r="1.85"/>
<circle cx="183.2" cy="465.7" r="1.85"/>
<circle cx="199.8" cy="465.5" r="1.85"/>
<circle cx="183" cy="470.8" r="1.85"/>
<circle cx="198.5" cy="470.8" r="1.85"/>
<circle cx="213.1" cy="467.5" r="1.85"/>
<circle cx="209.2" cy="470.4" r="1.85"/>
<circle cx="220.6" cy="466.1" r="1.85"/>
<circle cx="222.7" cy="467.8" r="1.85"/>
<circle cx="215.3" cy="472.4" r="1.85"/>
<circle cx="225.5" cy="471.8" r="1.85"/>
<circle cx="229.2" cy="472.7" r="1.85"/>
<circle cx="188.1" cy="473.5" r="1.85"/>
<circle cx="193" cy="474.9" r="1.85"/>
<circle cx="204.7" cy="474.3" r="1.85"/>
<circle cx="202.2" cy="476.7" r="1.85"/>
<circle cx="206.3" cy="477.6" r="1.85"/>
<circle cx="211.2" cy="477.6" r="1.85"/>
<circle cx="218.6" cy="476.3" r="1.85"/>
<circle cx="220.6" cy="474.3" r="1.85"/>
<circle cx="245.4" cy="440.6" r="1.85"/>
<circle cx="250.3" cy="442.4" r="1.85"/>
<circle cx="240.1" cy="444.9" r="1.85"/>
<circle cx="241.3" cy="448.9" r="1.85"/>
<circle cx="250.7" cy="452.2" r="1.85"/>
<circle cx="250.4" cy="458.3" r="1.85"/>
<circle cx="248.2" cy="459.6" r="1.85"/>
<circle cx="236.2" cy="461.6" r="1.85"/>
<circle cx="234.6" cy="479" r="1.85"/>
<circle cx="162.9" cy="481.4" r="1.85"/>
<circle cx="169.4" cy="482.2" r="1.85"/>
<circle cx="176.4" cy="483.2" r="1.85"/>
<circle cx="161.1" cy="487.4" r="1.85"/>
<circle cx="173.9" cy="487.3" r="1.85"/>
<circle cx="161.2" cy="492" r="1.85"/>
<circle cx="175.7" cy="493.4" r="1.85"/>
<circle cx="153.7" cy="499.8" r="1.85"/>
<circle cx="175.8" cy="499.3" r="1.85"/>
<circle cx="171.3" cy="501.7" r="1.85"/>
<circle cx="167.2" cy="508.5" r="1.85"/>
<circle cx="169.6" cy="513.8" r="1.85"/>
<circle cx="187.3" cy="478.6" r="1.85"/>
<circle cx="189.4" cy="477.7" r="1.85"/>
<circle cx="201.6" cy="481.1" r="1.85"/>
<circle cx="180.5" cy="483.6" r="1.85"/>
<circle cx="182.2" cy="482" r="1.85"/>
<circle cx="186.3" cy="482.5" r="1.85"/>
<circle cx="189.4" cy="483.2" r="1.85"/>
<circle cx="183.8" cy="487.3" r="1.85"/>
<circle cx="186.1" cy="489.3" r="1.85"/>
<circle cx="189.4" cy="487.3" r="1.85"/>
<circle cx="193.6" cy="485.2" r="1.85"/>
<circle cx="193.6" cy="486.9" r="1.85"/>
<circle cx="196.1" cy="486" r="1.85"/>
<circle cx="199.8" cy="487.3" r="1.85"/>
<circle cx="202.2" cy="488.5" r="1.85"/>
<circle cx="204.9" cy="491" r="1.85"/>
<circle cx="206.3" cy="491.4" r="1.85"/>
<circle cx="210.4" cy="487.4" r="1.85"/>
<circle cx="211.8" cy="490.1" r="1.85"/>
<circle cx="215.5" cy="492.2" r="1.85"/>
<circle cx="223.7" cy="483.8" r="1.85"/>
<circle cx="226.3" cy="488.3" r="1.85"/>
<circle cx="225.9" cy="493" r="1.85"/>
<circle cx="190.2" cy="492.3" r="1.85"/>
<circle cx="190.2" cy="495.4" r="1.85"/>
<circle cx="207.5" cy="496.7" r="1.85"/>
<circle cx="211.2" cy="495" r="1.85"/>
<circle cx="181.8" cy="500.2" r="1.85"/>
<circle cx="180.5" cy="503.5" r="1.85"/>
<circle cx="183" cy="504.4" r="1.85"/>
<circle cx="182.6" cy="506.5" r="1.85"/>
<circle cx="185.4" cy="506.5" r="1.85"/>
<circle cx="189.7" cy="502.4" r="1.85"/>
<circle cx="194.3" cy="505.1" r="1.85"/>
<circle cx="197.7" cy="501" r="1.85"/>
<circle cx="203" cy="501.3" r="1.85"/>
<circle cx="202.6" cy="503.2" r="1.85"/>
<circle cx="204.7" cy="502" r="1.85"/>
<circle cx="206.5" cy="504.3" r="1.85"/>
<circle cx="212" cy="500.3" r="1.85"/>
<circle cx="215.3" cy="500.3" r="1.85"/>
<circle cx="214.9" cy="503.2" r="1.85"/>
<circle cx="225.1" cy="506.3" r="1.85"/>
<circle cx="189.5" cy="509.3" r="1.85"/>
<circle cx="192.4" cy="510.2" r="1.85"/>
<circle cx="197.5" cy="511.2" r="1.85"/>
<circle cx="202.6" cy="515.3" r="1.85"/>
<circle cx="213.8" cy="517.3" r="1.85"/>
<circle cx="179.3" cy="517.9" r="1.85"/>
<circle cx="237" cy="482" r="1.85"/>
<circle cx="245.6" cy="478.7" r="1.85"/>
<circle cx="233.2" cy="489.5" r="1.85"/>
<circle cx="246.3" cy="491.9" r="1.85"/>
<circle cx="253.6" cy="491.9" r="1.85"/>
<circle cx="253.6" cy="495.3" r="1.85"/>
<circle cx="208.3" cy="522.8" r="1.85"/>
<circle cx="166" cy="531.6" r="1.85"/>
<circle cx="170.7" cy="532.3" r="1.85"/>
<circle cx="225.1" cy="553.5" r="1.85"/>
<text x="201.70" y="590.80" font-size="12.3" text-anchor="middle">IIV in nap duration (standardized)</text>
<text transform="translate(42.5,463.50) rotate(-90)" font-size="12.3" text-anchor="middle">Amyloid β (residual)</text>
<polygon points="418.80,477.73 423.19,477.51 427.59,477.28 431.99,477.06 436.38,476.84 440.78,476.61 445.17,476.39 449.56,476.16 453.96,475.93 458.36,475.70 462.75,475.47 467.14,475.24 471.54,475.00 475.94,474.76 480.33,474.52 484.73,474.27 489.12,474.02 493.51,473.76 497.91,473.50 502.31,473.23 506.70,472.95 511.10,472.65 515.49,472.35 519.88,472.02 524.28,471.66 528.67,471.28 533.07,470.85 537.47,470.38 541.86,469.84 546.25,469.24 550.65,468.55 555.05,467.80 559.44,466.96 563.84,466.07 568.23,465.12 572.62,464.14 577.02,463.11 581.41,462.07 585.81,461.00 590.20,459.91 594.60,458.82 599.00,457.71 603.39,456.59 607.78,455.47 612.18,454.34 616.58,453.21 620.97,452.07 625.37,450.93 629.76,449.79 634.15,448.64 638.55,447.49 642.94,446.34 647.34,445.19 651.74,444.04 656.13,442.88 660.52,441.73 664.92,440.57 669.32,439.41 673.71,438.26 678.11,437.10 682.50,435.94 682.50,465.67 678.11,465.89 673.71,466.12 669.32,466.34 664.92,466.56 660.52,466.78 656.13,467.01 651.74,467.24 647.34,467.46 642.94,467.69 638.55,467.92 634.15,468.15 629.76,468.39 625.37,468.63 620.97,468.87 616.58,469.11 612.18,469.36 607.78,469.61 603.39,469.87 599.00,470.13 594.60,470.40 590.20,470.69 585.81,470.98 581.41,471.30 577.02,471.63 572.62,471.99 568.23,472.38 563.84,472.81 559.44,473.30 555.05,473.85 550.65,474.47 546.25,475.17 541.86,475.94 537.47,476.79 533.07,477.69 528.67,478.65 524.28,479.64 519.88,480.67 515.49,481.72 511.10,482.79 506.70,483.88 502.31,484.98 497.91,486.09 493.51,487.21 489.12,488.33 484.73,489.46 480.33,490.60 475.94,491.73 471.54,492.88 467.14,494.02 462.75,495.17 458.36,496.31 453.96,497.46 449.56,498.62 445.17,499.77 440.78,500.92 436.38,502.08 431.99,503.24 427.59,504.39 423.19,505.55 418.80,506.71" fill="#fde1e5" stroke="none"/>
<polyline points="418.80,477.73 423.19,477.51 427.59,477.28 431.99,477.06 436.38,476.84 440.78,476.61 445.17,476.39 449.56,476.16 453.96,475.93 458.36,475.70 462.75,475.47 467.14,475.24 471.54,475.00 475.94,474.76 480.33,474.52 484.73,474.27 489.12,474.02 493.51,473.76 497.91,473.50 502.31,473.23 506.70,472.95 511.10,472.65 515.49,472.35 519.88,472.02 524.28,471.66 528.67,471.28 533.07,470.85 537.47,470.38 541.86,469.84 546.25,469.24 550.65,468.55 555.05,467.80 559.44,466.96 563.84,466.07 568.23,465.12 572.62,464.14 577.02,463.11 581.41,462.07 585.81,461.00 590.20,459.91 594.60,458.82 599.00,457.71 603.39,456.59 607.78,455.47 612.18,454.34 616.58,453.21 620.97,452.07 625.37,450.93 629.76,449.79 634.15,448.64 638.55,447.49 642.94,446.34 647.34,445.19 651.74,444.04 656.13,442.88 660.52,441.73 664.92,440.57 669.32,439.41 673.71,438.26 678.11,437.10 682.50,435.94" fill="none" stroke="#f7a0ae" stroke-width="0.8"/>
<polyline points="418.80,506.71 423.19,505.55 427.59,504.39 431.99,503.24 436.38,502.08 440.78,500.92 445.17,499.77 449.56,498.62 453.96,497.46 458.36,496.31 462.75,495.17 467.14,494.02 471.54,492.88 475.94,491.73 480.33,490.60 484.73,489.46 489.12,488.33 493.51,487.21 497.91,486.09 502.31,484.98 506.70,483.88 511.10,482.79 515.49,481.72 519.88,480.67 524.28,479.64 528.67,478.65 533.07,477.69 537.47,476.79 541.86,475.94 546.25,475.17 550.65,474.47 555.05,473.85 559.44,473.30 563.84,472.81 568.23,472.38 572.62,471.99 577.02,471.63 581.41,471.30 585.81,470.98 590.20,470.69 594.60,470.40 599.00,470.13 603.39,469.87 607.78,469.61 612.18,469.36 616.58,469.11 620.97,468.87 625.37,468.63 629.76,468.39 634.15,468.15 638.55,467.92 642.94,467.69 647.34,467.46 651.74,467.24 656.13,467.01 660.52,466.78 664.92,466.56 669.32,466.34 673.71,466.12 678.11,465.89 682.50,465.67" fill="none" stroke="#f7a0ae" stroke-width="0.8"/>
<line x1="418.8" y1="492.22" x2="682.5" y2="450.81" stroke="#ec2842" stroke-width="2.4"/>
<line x1="414.8" y1="365.5" x2="682.5" y2="365.5" stroke="#8a8a8a" stroke-width="1.3"/>
<line x1="682.5" y1="365.5" x2="682.5" y2="566.8" stroke="#8a8a8a" stroke-width="1.3"/>
<line x1="414.8" y1="563.5" x2="682.5" y2="563.5" stroke="#8a8a8a" stroke-width="1.3"/>
<line x1="414.8" y1="563.50" x2="418.8" y2="563.50" stroke="#777" stroke-width="1.2"/>
<line x1="418.80" y1="563.5" x2="418.80" y2="566.8" stroke="#999" stroke-width="1.2"/>
<text x="409.3" y="567.30" font-size="10.5" text-anchor="end">-3</text>
<text x="417.10" y="577.80" font-size="10.5" text-anchor="middle">-3</text>
<line x1="414.8" y1="530.50" x2="418.8" y2="530.50" stroke="#777" stroke-width="1.2"/>
<line x1="462.75" y1="563.5" x2="462.75" y2="566.8" stroke="#999" stroke-width="1.2"/>
<text x="409.3" y="534.30" font-size="10.5" text-anchor="end">-2</text>
<text x="461.05" y="577.80" font-size="10.5" text-anchor="middle">-2</text>
<line x1="414.8" y1="497.50" x2="418.8" y2="497.50" stroke="#777" stroke-width="1.2"/>
<line x1="506.70" y1="563.5" x2="506.70" y2="566.8" stroke="#999" stroke-width="1.2"/>
<text x="409.3" y="501.30" font-size="10.5" text-anchor="end">-1</text>
<text x="505.00" y="577.80" font-size="10.5" text-anchor="middle">-1</text>
<line x1="414.8" y1="464.50" x2="418.8" y2="464.50" stroke="#777" stroke-width="1.2"/>
<line x1="550.65" y1="563.5" x2="550.65" y2="566.8" stroke="#999" stroke-width="1.2"/>
<text x="409.3" y="468.30" font-size="10.5" text-anchor="end">0</text>
<text x="550.65" y="577.80" font-size="10.5" text-anchor="middle">0</text>
<line x1="414.8" y1="431.50" x2="418.8" y2="431.50" stroke="#777" stroke-width="1.2"/>
<line x1="594.60" y1="563.5" x2="594.60" y2="566.8" stroke="#999" stroke-width="1.2"/>
<text x="409.3" y="435.30" font-size="10.5" text-anchor="end">1</text>
<text x="594.60" y="577.80" font-size="10.5" text-anchor="middle">1</text>
<line x1="414.8" y1="398.50" x2="418.8" y2="398.50" stroke="#777" stroke-width="1.2"/>
<line x1="638.55" y1="563.5" x2="638.55" y2="566.8" stroke="#999" stroke-width="1.2"/>
<text x="409.3" y="402.30" font-size="10.5" text-anchor="end">2</text>
<text x="638.55" y="577.80" font-size="10.5" text-anchor="middle">2</text>
<line x1="414.8" y1="365.50" x2="418.8" y2="365.50" stroke="#777" stroke-width="1.2"/>
<line x1="682.50" y1="563.5" x2="682.50" y2="566.8" stroke="#999" stroke-width="1.2"/>
<text x="409.3" y="369.30" font-size="10.5" text-anchor="end">3</text>
<text x="682.50" y="577.80" font-size="10.5" text-anchor="middle">3</text>
<line x1="418.8" y1="365.5" x2="418.8" y2="566.8" stroke="#9a9a9a" stroke-width="1.3"/>
<circle cx="485.4" cy="439.8" r="1.85"/>
<circle cx="512" cy="445.1" r="1.85"/>
<circle cx="487.2" cy="447.6" r="1.85"/>
<circle cx="507.6" cy="447.6" r="1.85"/>
<circle cx="530.1" cy="386.7" r="1.85"/>
<circle cx="597.6" cy="398.9" r="1.85"/>
<circle cx="550.3" cy="411.5" r="1.85"/>
<circle cx="548.4" cy="413" r="1.85"/>
<circle cx="546.6" cy="414.7" r="1.85"/>
<circle cx="536" cy="418.1" r="1.85"/>
<circle cx="547.4" cy="422.7" r="1.85"/>
<circle cx="558.3" cy="419.1" r="1.85"/>
<circle cx="591.5" cy="424.9" r="1.85"/>
<circle cx="598.3" cy="420.3" r="1.85"/>
<circle cx="602.7" cy="419.4" r="1.85"/>
<circle cx="615.5" cy="432.2" r="1.85"/>
<circle cx="539.2" cy="441.3" r="1.85"/>
<circle cx="543.3" cy="443.6" r="1.85"/>
<circle cx="568.1" cy="444.6" r="1.85"/>
<circle cx="577.6" cy="439.5" r="1.85"/>
<circle cx="585.6" cy="440.6" r="1.85"/>
<circle cx="594.1" cy="444.9" r="1.85"/>
<circle cx="602.7" cy="439.1" r="1.85"/>
<circle cx="613.6" cy="441.3" r="1.85"/>
<circle cx="521.1" cy="446.5" r="1.85"/>
<circle cx="479.4" cy="462.4" r="1.85"/>
<circle cx="488.2" cy="474.1" r="1.85"/>
<circle cx="474.5" cy="495.3" r="1.85"/>
<circle cx="481.4" cy="494.1" r="1.85"/>
<circle cx="488.2" cy="502.6" r="1.85"/>
<circle cx="491.4" cy="451" r="1.85"/>
<circle cx="492.4" cy="453.5" r="1.85"/>
<circle cx="496.4" cy="456.9" r="1.85"/>
<circle cx="520.3" cy="454.6" r="1.85"/>
<circle cx="532.3" cy="454.1" r="1.85"/>
<circle cx="534" cy="449" r="1.85"/>
<circle cx="490" cy="462.2" r="1.85"/>
<circle cx="531.9" cy="463.7" r="1.85"/>
<circle cx="529.1" cy="467.4" r="1.85"/>
<circle cx="530" cy="470.7" r="1.85"/>
<circle cx="508.6" cy="473.5" r="1.85"/>
<circle cx="517.4" cy="474.5" r="1.85"/>
<circle cx="523.1" cy="475.3" r="1.85"/>
<circle cx="515.7" cy="478.4" r="1.85"/>
<circle cx="527.4" cy="478.3" r="1.85"/>
<circle cx="489.4" cy="482" r="1.85"/>
<circle cx="509.3" cy="482.1" r="1.85"/>
<circle cx="519.1" cy="483.7" r="1.85"/>
<circle cx="524.2" cy="482.5" r="1.85"/>
<circle cx="525.4" cy="484.6" r="1.85"/>
<circle cx="531.5" cy="481.3" r="1.85"/>
<circle cx="574" cy="450.1" r="1.85"/>
<circle cx="583.2" cy="453.2" r="1.85"/>
<circle cx="576.7" cy="455.8" r="1.85"/>
<circle cx="570.5" cy="457.6" r="1.85"/>
<circle cx="536.2" cy="449.4" r="1.85"/>
<circle cx="538.6" cy="454.3" r="1.85"/>
<circle cx="541.5" cy="452.7" r="1.85"/>
<circle cx="544.4" cy="451.4" r="1.85"/>
<circle cx="546.8" cy="450.6" r="1.85"/>
<circle cx="549.4" cy="450" r="1.85"/>
<circle cx="551.7" cy="449.2" r="1.85"/>
<circle cx="556.6" cy="453.1" r="1.85"/>
<circle cx="556.6" cy="457.2" r="1.85"/>
<circle cx="559.1" cy="456.8" r="1.85"/>
<circle cx="539.4" cy="458.2" r="1.85"/>
<circle cx="542.3" cy="457.2" r="1.85"/>
<circle cx="544.8" cy="457.2" r="1.85"/>
<circle cx="544.8" cy="459.6" r="1.85"/>
<circle cx="537.8" cy="462.2" r="1.85"/>
<circle cx="541.1" cy="463.5" r="1.85"/>
<circle cx="547.5" cy="464.1" r="1.85"/>
<circle cx="555.4" cy="461.7" r="1.85"/>
<circle cx="557" cy="464.1" r="1.85"/>
<circle cx="540.4" cy="467.4" r="1.85"/>
<circle cx="540.3" cy="468.6" r="1.85"/>
<circle cx="547.6" cy="468.5" r="1.85"/>
<circle cx="550.5" cy="467.4" r="1.85"/>
<circle cx="535" cy="469.4" r="1.85"/>
<circle cx="557.4" cy="467" r="1.85"/>
<circle cx="558.7" cy="469.4" r="1.85"/>
<circle cx="555.8" cy="470.7" r="1.85"/>
<circle cx="558.7" cy="471.5" r="1.85"/>
<circle cx="561.5" cy="470.1" r="1.85"/>
<circle cx="564.4" cy="469.3" r="1.85"/>
<circle cx="572.6" cy="466.3" r="1.85"/>
<circle cx="576.4" cy="467" r="1.85"/>
<circle cx="579.5" cy="461.3" r="1.85"/>
<circle cx="581.6" cy="460.9" r="1.85"/>
<circle cx="580.7" cy="462.9" r="1.85"/>
<circle cx="570.5" cy="470.3" r="1.85"/>
<circle cx="568.5" cy="472.3" r="1.85"/>
<circle cx="553.8" cy="474.2" r="1.85"/>
<circle cx="541.1" cy="473.1" r="1.85"/>
<circle cx="543.5" cy="473.5" r="1.85"/>
<circle cx="545.6" cy="473.5" r="1.85"/>
<circle cx="540.3" cy="476" r="1.85"/>
<circle cx="542.7" cy="476" r="1.85"/>
<circle cx="534.1" cy="472.7" r="1.85"/>
<circle cx="534.5" cy="475.2" r="1.85"/>
<circle cx="535.4" cy="476.8" r="1.85"/>
<circle cx="532.9" cy="478.4" r="1.85"/>
<circle cx="543.9" cy="478.4" r="1.85"/>
<circle cx="548" cy="478.4" r="1.85"/>
<circle cx="550.9" cy="479.7" r="1.85"/>
<circle cx="546.8" cy="480.9" r="1.85"/>
<circle cx="558.3" cy="476.1" r="1.85"/>
<circle cx="560.7" cy="478.4" r="1.85"/>
<circle cx="561.5" cy="480.5" r="1.85"/>
<circle cx="558.3" cy="481.7" r="1.85"/>
<circle cx="564" cy="480.5" r="1.85"/>
<circle cx="566.8" cy="481.3" r="1.85"/>
<circle cx="570.1" cy="480.9" r="1.85"/>
<circle cx="569.7" cy="476.8" r="1.85"/>
<circle cx="579.5" cy="477.6" r="1.85"/>
<circle cx="576.7" cy="481.3" r="1.85"/>
<circle cx="578.7" cy="483.3" r="1.85"/>
<circle cx="561.1" cy="483.3" r="1.85"/>
<circle cx="615.2" cy="449.8" r="1.85"/>
<circle cx="620.5" cy="452.7" r="1.85"/>
<circle cx="587.2" cy="454.7" r="1.85"/>
<circle cx="594.1" cy="454.1" r="1.85"/>
<circle cx="600.5" cy="460.6" r="1.85"/>
<circle cx="605.8" cy="462.2" r="1.85"/>
<circle cx="592.6" cy="466" r="1.85"/>
<circle cx="597.5" cy="466" r="1.85"/>
<circle cx="603" cy="465.8" r="1.85"/>
<circle cx="597.9" cy="472.1" r="1.85"/>
<circle cx="634.8" cy="457.6" r="1.85"/>
<circle cx="586.4" cy="477.4" r="1.85"/>
<circle cx="598.6" cy="479.1" r="1.85"/>
<circle cx="607.2" cy="483.7" r="1.85"/>
<circle cx="529.1" cy="485.7" r="1.85"/>
<circle cx="504.9" cy="489.8" r="1.85"/>
<circle cx="511.2" cy="492.6" r="1.85"/>
<circle cx="518.8" cy="498" r="1.85"/>
<circle cx="528.3" cy="494.7" r="1.85"/>
<circle cx="531.6" cy="492.5" r="1.85"/>
<circle cx="527.9" cy="500.4" r="1.85"/>
<circle cx="515.8" cy="507.5" r="1.85"/>
<circle cx="504.2" cy="510" r="1.85"/>
<circle cx="522.6" cy="509.8" r="1.85"/>
<circle cx="530" cy="506.5" r="1.85"/>
<circle cx="533.7" cy="486.5" r="1.85"/>
<circle cx="534.1" cy="489.4" r="1.85"/>
<circle cx="536.2" cy="491.8" r="1.85"/>
<circle cx="536.6" cy="487.6" r="1.85"/>
<circle cx="539.9" cy="484.9" r="1.85"/>
<circle cx="542.3" cy="484.5" r="1.85"/>
<circle cx="540.3" cy="489.8" r="1.85"/>
<circle cx="541.9" cy="490.2" r="1.85"/>
<circle cx="546.2" cy="486.5" r="1.85"/>
<circle cx="549.7" cy="488.4" r="1.85"/>
<circle cx="553.8" cy="488.1" r="1.85"/>
<circle cx="555.8" cy="486.3" r="1.85"/>
<circle cx="554.6" cy="490.6" r="1.85"/>
<circle cx="559.9" cy="488.1" r="1.85"/>
<circle cx="562.2" cy="488.5" r="1.85"/>
<circle cx="562.8" cy="491.8" r="1.85"/>
<circle cx="541.7" cy="496.1" r="1.85"/>
<circle cx="538.6" cy="498.8" r="1.85"/>
<circle cx="538.5" cy="502.4" r="1.85"/>
<circle cx="549.7" cy="494.3" r="1.85"/>
<circle cx="551.7" cy="494.7" r="1.85"/>
<circle cx="551.3" cy="497.1" r="1.85"/>
<circle cx="557.4" cy="498.8" r="1.85"/>
<circle cx="559.9" cy="499.8" r="1.85"/>
<circle cx="564.6" cy="503.1" r="1.85"/>
<circle cx="571.7" cy="504.5" r="1.85"/>
<circle cx="575.8" cy="489.4" r="1.85"/>
<circle cx="575.8" cy="490.8" r="1.85"/>
<circle cx="536.2" cy="506.9" r="1.85"/>
<circle cx="533.6" cy="510.6" r="1.85"/>
<circle cx="554" cy="511" r="1.85"/>
<circle cx="560.1" cy="509.6" r="1.85"/>
<circle cx="583.6" cy="507.3" r="1.85"/>
<circle cx="611.2" cy="489.7" r="1.85"/>
<circle cx="604.8" cy="497.6" r="1.85"/>
<circle cx="520.7" cy="529.2" r="1.85"/>
<circle cx="568.2" cy="530" r="1.85"/>
<text x="550.65" y="591.80" font-size="12.3" text-anchor="middle">IIV in nap duration (standardized)</text>
<text transform="translate(391.3,463.65) rotate(-90)" font-size="12.3" text-anchor="middle">Neurofibrillary tangles (residual)</text>
<text transform="translate(-0.3,19.85) scale(0.92,1.02)" font-size="26.5" font-weight="bold" stroke="#000" stroke-width="0.5">a</text>
<text x="369.6" y="19.5" font-size="26.5" font-weight="bold" stroke="#000" stroke-width="0.5">b</text>
<text x="-0.6" y="342.1" font-size="26.5" font-weight="bold" stroke="#000" stroke-width="0.5">c</text>
<text x="370.1" y="342.7" font-size="26.5" font-weight="bold" stroke="#000" stroke-width="0.5">d</text>
</svg></body></html>
